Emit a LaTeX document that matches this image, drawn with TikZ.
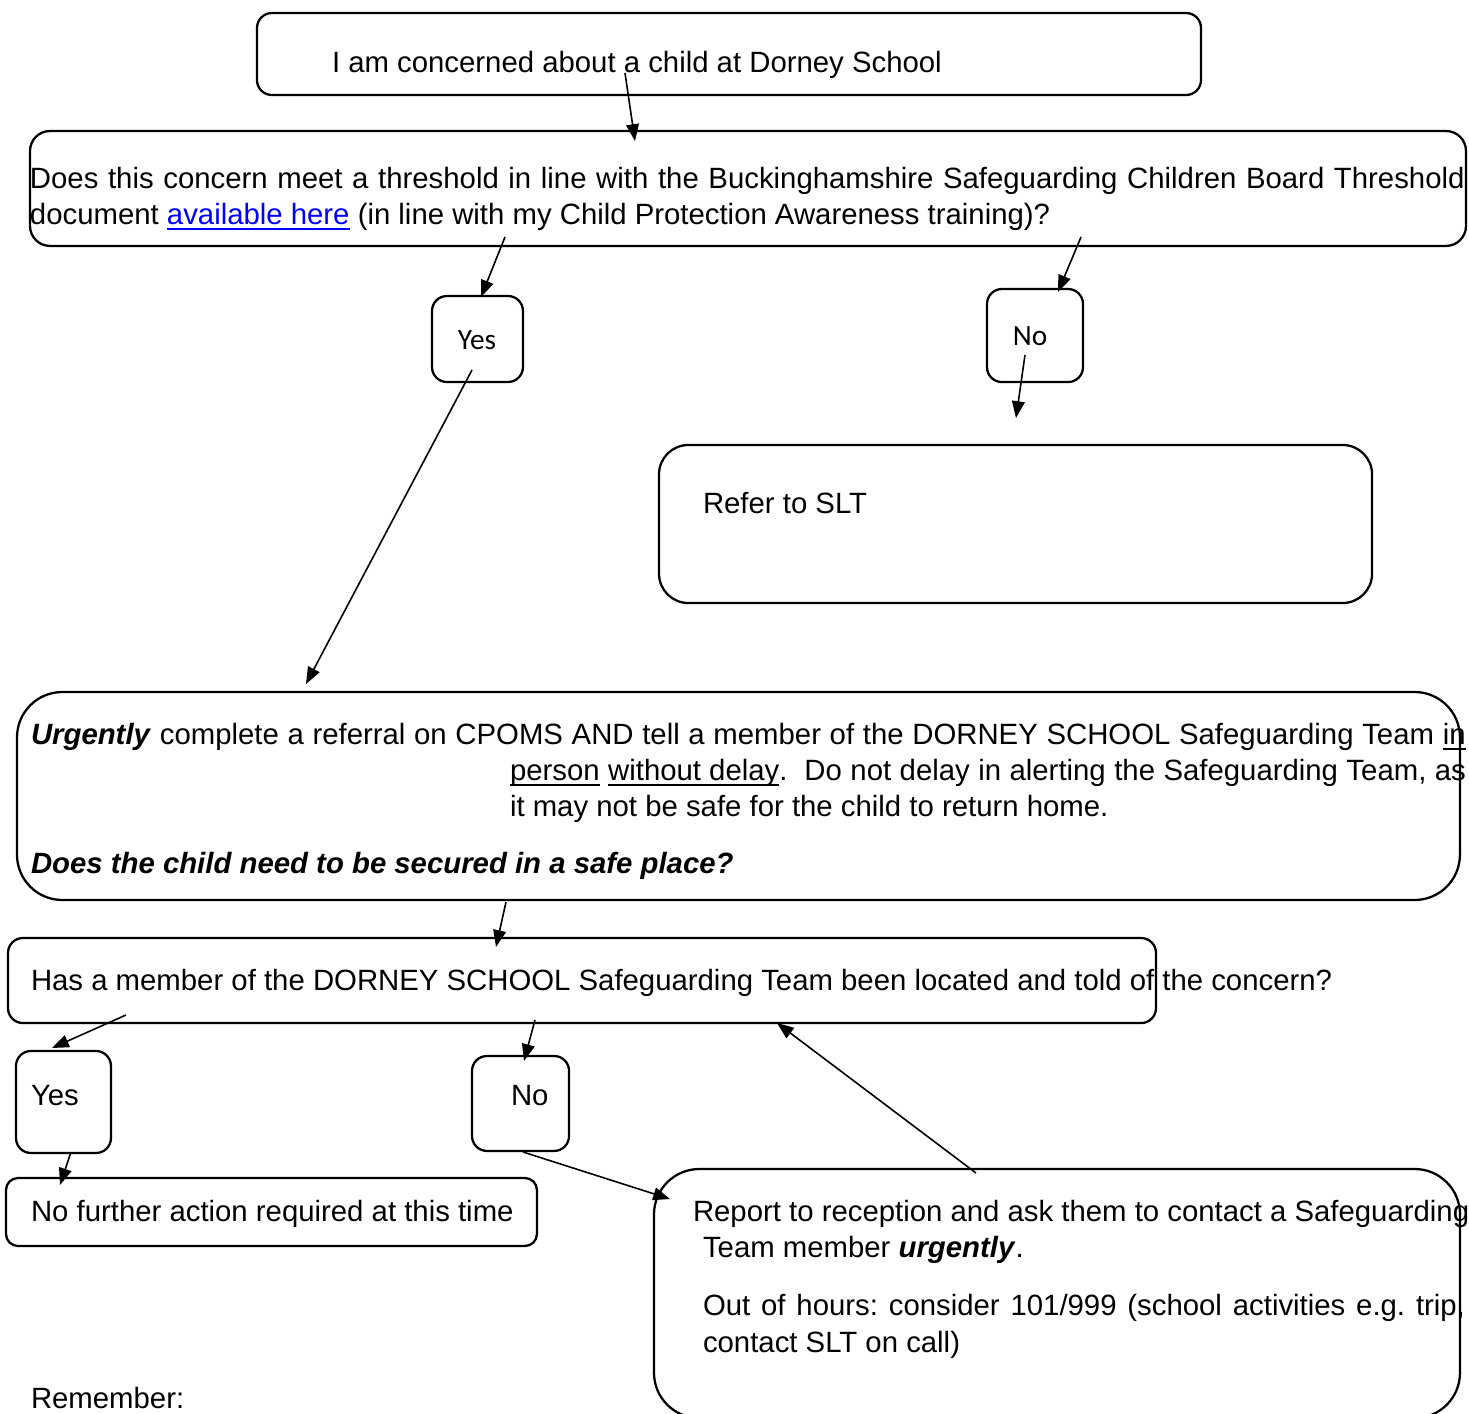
\documentclass[tikz,border=0pt]{standalone}
\usepackage{fontspec}
\setmainfont{Liberation Sans}
\newfontfamily\calibri{Carlito}
\usetikzlibrary{arrows.meta}
\definecolor{linkblue}{RGB}{0,0,255}
\newcommand\myul[1]{\setbox0\hbox{#1}\rlap{\rule[-2.2pt]{\wd0}{0.6pt}}\box0\relax}
\begin{document}
\frenchspacing
\begin{tikzpicture}[x=0.375pt,y=-0.375pt,
  box/.style={draw, line width=0.85pt, inner sep=0pt, outer sep=0pt, anchor=north west},
  txt/.style={inner sep=0pt, outer sep=0pt, anchor=base west, font=\fontsize{11pt}{13.5pt}\selectfont},
  yn/.style={inner sep=0pt, outer sep=0pt, anchor=center, font=\calibri\fontsize{11pt}{13.5pt}\selectfont},
  arr/.style={-{Triangle[length=6.3pt,width=4.8pt]}, line width=0.6pt}]
\useasboundingbox (0,0) rectangle (1469,1414);

% boxes
\node[box, rounded corners=5.6pt, minimum width=354pt, minimum height=30.75pt] (start) at (257,13) {};
\node[box, rounded corners=7.5pt, minimum width=538.5pt, minimum height=43.1pt] (thresh) at (30,131) {};
\node[box, rounded corners=5.6pt, minimum width=34.1pt, minimum height=32.25pt] (yes1) at (432,296) {};
\node[box, rounded corners=5.6pt, minimum width=36pt, minimum height=34.9pt] (no1) at (987,289) {};
\node[box, rounded corners=11pt, minimum width=267.4pt, minimum height=59.25pt] (slt) at (659,445) {};
\node[box, rounded corners=17pt, minimum width=541.1pt, minimum height=78pt] (urg) at (17,692) {};
\node[box, rounded corners=5.6pt, minimum width=430.5pt, minimum height=31.9pt] (has) at (8,938) {};
\node[box, rounded corners=5.6pt, minimum width=35.6pt, minimum height=38.25pt] (yes2) at (16,1051) {};
\node[box, rounded corners=5.6pt, minimum width=36.4pt, minimum height=35.6pt] (no2) at (472,1056) {};
\node[box, rounded corners=4.5pt, minimum width=199.1pt, minimum height=25.5pt] (nfa) at (6,1178) {};
\node[box, rounded corners=17pt, minimum width=302.25pt, minimum height=93.4pt] (rep) at (654,1169) {};

% texts
\node[txt] (tstart) at (332,72) {I am concerned about a child at Dorney School};
\node[txt] (tthr1) at (30,188) {\makebox[538pt][s]{Does this concern meet a threshold in line with the Buckinghamshire Safeguarding Children Board Threshold}};
\node[txt] (tthr2) at (30,224) {document \textcolor{linkblue}{\myul{available here}} (in line with my Child Protection Awareness training)?};
\node[yn] (tyes1) at (477,340) {Yes};
\node[yn] (tno1) at (1030,336) {No};
\node[txt] (tslt) at (703,513) {Refer to SLT};
\node[txt] (turg1) at (31,744) {\makebox[538pt][s]{\textbf{\textit{Urgently}} complete a referral on CPOMS AND tell a member of the DORNEY SCHOOL Safeguarding Team \myul{in}}};
\node[txt] (turg2) at (510,780) {\makebox[358.5pt][s]{\myul{person} \myul{without delay}.~ Do not delay in alerting the Safeguarding Team, as}};
\node[txt] (turg3) at (510,816) {it may not be safe for the child to return home.};
\node[txt] (turg4) at (31,873) {\textbf{\textit{Does the child need to be secured in a safe place?}}};
\node[txt] (thas) at (31,990) {Has a member of the DORNEY SCHOOL Safeguarding Team been located and told of the concern?};
\node[txt] (tyes2) at (31,1105) {Yes};
\node[txt] (tno2) at (511,1105) {No};
\node[txt] (tnfa) at (31,1221) {No further action required at this time};
\node[txt] (trep1) at (693,1221) {Report to reception and ask them to contact a Safeguarding};
\node[txt] (trep2) at (703,1257) {Team member \textbf{\textit{urgently}}.};
\node[txt] (trep3) at (703,1315) {\makebox[285.75pt][s]{Out of hours: consider 101/999 (school activities e.g. trip,}};
\node[txt] (trep4) at (703,1352) {contact SLT on call)};
\node[txt] (trem) at (31,1408) {Remember:};

% connector end points
\coordinate (a1) at (625,73);   \coordinate (a2) at (635,141);
\coordinate (b1) at (505,237);  \coordinate (b2) at (481,297);
\coordinate (c1) at (1081,237); \coordinate (c2) at (1058,292);
\coordinate (d1) at (472,370);  \coordinate (d2) at (306,684);
\coordinate (e1) at (1025,355); \coordinate (e2) at (1016,418);
\coordinate (f1) at (506,902);  \coordinate (f2) at (496,947);
\coordinate (g1) at (126,1015); \coordinate (g2) at (52,1048);
\coordinate (h1) at (535,1020); \coordinate (h2) at (524,1061);
\coordinate (i1) at (976,1173); \coordinate (i2) at (777,1023);
\coordinate (j1) at (523,1152); \coordinate (j2) at (670,1199);
\coordinate (k1) at (71,1152);  \coordinate (k2) at (60,1185);

\draw[arr] (a1) -- (a2);
\draw[arr] (b1) -- (b2);
\draw[arr] (c1) -- (c2);
\draw[arr] (d1) -- (d2);
\draw[arr] (e1) -- (e2);
\draw[arr] (f1) -- (f2);
\draw[arr] (g1) -- (g2);
\draw[arr] (h1) -- (h2);
\draw[arr] (i1) -- (i2);
\draw[arr] (j1) -- (j2);
\draw[arr] (k1) -- (k2);
\end{tikzpicture}
\end{document}
